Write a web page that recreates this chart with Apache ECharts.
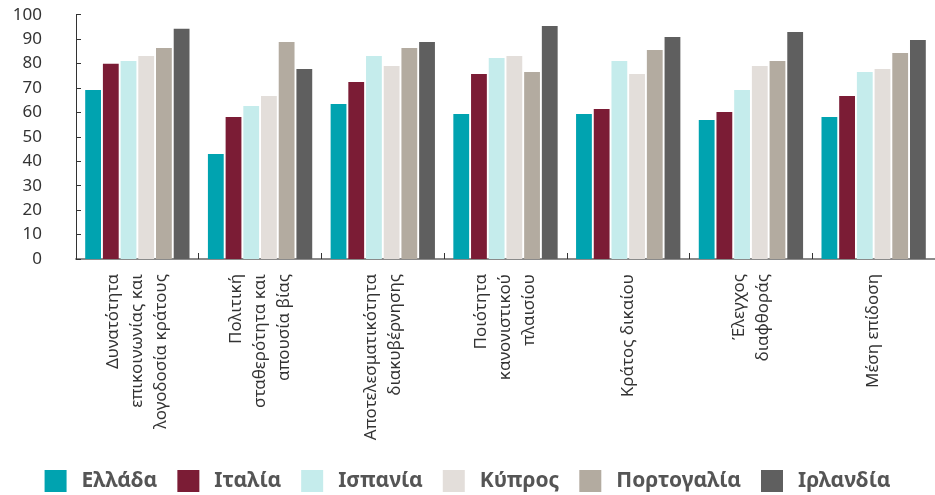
<!DOCTYPE html>
<html>
<head>
<meta charset="utf-8">
<script src="https://cdn.jsdelivr.net/npm/echarts@6/dist/echarts.min.js"></script>
<style>html,body{margin:0;padding:0;background:#fff}#c{width:935px;height:495px}</style>
</head>
<body>
<div id="c"></div>
<script>
const categories = [
  "Δυνατότητα\nεπικοινωνίας και\nλογοδοσία κράτους",
  "Πολιτική\nσταθερότητα και\nαπουσία βίας",
  "Αποτελεσματικότητα\nδιακυβέρνησης",
  "Ποιότητα\nκανονιστικού\nπλαισίου",
  "Κράτος δικαίου",
  "Έλεγχος\nδιαφθοράς",
  "Μέση επίδοση"
];
const seriesNames = ["Ελλάδα", "Ιταλία", "Ισπανία", "Κύπρος", "Πορτογαλία", "Ιρλανδία"];
const greece   = [69.2, 43.0, 63.4, 59.4, 59.4, 56.9, 58.1];
const italy    = [79.9, 58.1, 72.5, 75.7, 61.4, 60.2, 66.7];
const spain    = [81.0, 62.6, 83.1, 82.3, 81.0, 69.2, 76.5];
const cyprus   = [83.1, 66.7, 79.0, 83.1, 75.7, 79.0, 77.8];
const portugal = [86.4, 88.8, 86.4, 76.5, 85.5, 81.0, 84.3];
const ireland  = [94.2, 77.8, 88.8, 95.4, 90.9, 92.9, 89.6];
const yTicks = [0, 10, 20, 30, 40, 50, 60, 70, 80, 90, 100];

const colors = ["#00A3B0", "#7B1C35", "#C5ECEC", "#E3DEDA", "#B3ABA0", "#5F5F5F"];
const allData = [greece, italy, spain, cyprus, portugal, ireland];

const chart = echarts.init(document.getElementById('c'));
chart.setOption({
  animation: false,
  color: colors,
  grid: { left: 76, right: 0, top: 14.7, bottom: 236, containLabel: false },
  legend: {
    data: seriesNames,
    left: 'center',
    top: 465,
    itemWidth: 22,
    itemHeight: 22,
    itemGap: 20,
    icon: 'rect',
    textStyle: { fontFamily: 'Noto Sans', fontWeight: 'bold', fontSize: 21, color: '#555', padding: [0, 6, 0, 10] }
  },
  xAxis: {
    type: 'category',
    data: categories,
    axisLine: { lineStyle: { color: '#8a8a8a', width: 2 } },
    axisTick: { show: true, inside: true, length: 6, lineStyle: { color: '#333' } },
    axisLabel: {
      rotate: 90,
      interval: 0,
      margin: 15,
      fontFamily: 'Noto Sans',
      fontSize: 17,
      lineHeight: 24,
      color: '#333',
      align: 'right',
      verticalAlign: 'middle'
    }
  },
  yAxis: {
    type: 'value',
    min: 0,
    max: 100,
    interval: 10,
    splitLine: { show: false },
    axisLine: { show: true, lineStyle: { color: '#333', width: 1 } },
    axisTick: { show: true, inside: true, length: 5, lineStyle: { color: '#333' } },
    axisLabel: {
      margin: 34,
      fontFamily: 'Noto Sans',
      fontSize: 17,
      color: '#333',
      formatter: v => yTicks.includes(v) ? String(v) : ''
    }
  },
  series: seriesNames.map((n, i) => ({
    name: n,
    type: 'bar',
    data: allData[i],
    barGap: '12%',
    barCategoryGap: '15%'
  }))
});
</script>
</body>
</html>
